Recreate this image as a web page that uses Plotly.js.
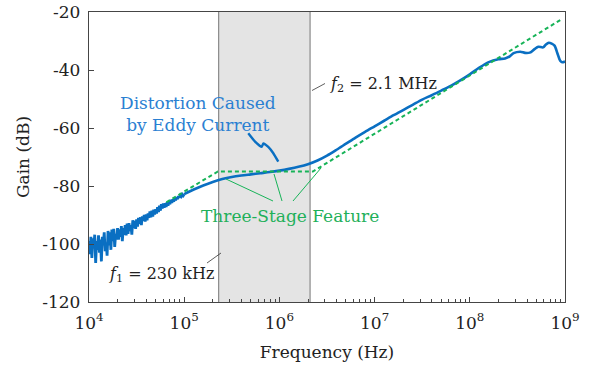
<!DOCTYPE html>
<html>
<head>
<meta charset="utf-8">
<script src="https://cdn.plot.ly/plotly-3.0.1.min.js"></script>
<style>html,body{margin:0;padding:0;background:#fff;}#chart{width:597px;height:369px;}</style>
</head>
<body>
<div id="chart"></div>
<script>
// ---- Data ----
// Noisy low-frequency part of the measured gain (10 kHz - 100 kHz)
const noisyFreq = [
  1.000e4,1.023e4,1.047e4,1.072e4,1.096e4,1.122e4,1.148e4,1.175e4,1.202e4,1.230e4,
  1.259e4,1.288e4,1.318e4,1.349e4,1.380e4,1.413e4,1.445e4,1.479e4,1.514e4,1.549e4,
  1.585e4,1.622e4,1.660e4,1.698e4,1.738e4,1.778e4,1.820e4,1.862e4,1.905e4,1.950e4,
  1.995e4,2.042e4,2.089e4,2.138e4,2.188e4,2.239e4,2.291e4,2.344e4,2.399e4,2.455e4,
  2.512e4,2.570e4,2.630e4,2.692e4,2.754e4,2.818e4,2.884e4,2.951e4,3.020e4,3.090e4,
  3.162e4,3.236e4,3.311e4,3.388e4,3.467e4,3.548e4,3.631e4,3.715e4,3.802e4,3.890e4,
  3.981e4,4.074e4,4.169e4,4.266e4,4.365e4,4.467e4,4.571e4,4.677e4,4.786e4,4.898e4,
  5.012e4,5.129e4,5.248e4,5.370e4,5.495e4,5.623e4,5.754e4,5.888e4,6.026e4,6.166e4,
  6.310e4,6.457e4,6.607e4,6.761e4,6.918e4,7.079e4,7.244e4,7.413e4,7.586e4,7.762e4,
  7.943e4,8.128e4,8.318e4,8.511e4,8.710e4,8.913e4,9.120e4,9.333e4,9.550e4,9.772e4,
  1.000e5
];
const noisyGain = [
  -99.0,-103.5,-97.5,-104.8,-98.0,-101.5,-96.8,-106.5,-99.0,-102.0,
  -97.0,-103.0,-98.5,-106.0,-97.5,-100.5,-96.0,-102.5,-99.5,-104.0,
  -95.5,-100.5,-96.0,-102.0,-95.0,-99.0,-94.8,-101.0,-96.5,-98.5,
  -94.5,-98.5,-95.0,-97.5,-93.8,-99.0,-94.5,-96.8,-93.5,-97.0,
  -93.0,-96.5,-92.8,-95.5,-93.5,-96.8,-91.8,-94.5,-92.0,-94.8,
  -91.5,-94.0,-91.0,-93.0,-90.8,-93.5,-90.5,-92.0,-90.0,-92.3,
  -89.8,-91.8,-89.5,-91.0,-88.8,-90.8,-88.5,-90.5,-88.2,-89.8,
  -88.0,-89.5,-87.3,-89.0,-86.8,-88.5,-86.3,-87.8,-86.0,-87.5,
  -86.0,-87.2,-85.6,-86.8,-85.3,-86.3,-84.8,-85.8,-84.6,-85.4,
  -84.2,-85.0,-83.8,-84.5,-83.5,-84.0,-83.2,-83.6,-82.9,-83.3,
  -82.8
];
// Smooth part of the measured gain (100 kHz - 1 GHz)
const smoothFreq = [
  1.000e5,1.259e5,1.585e5,1.995e5,2.512e5,3.162e5,3.981e5,5.012e5,6.310e5,7.943e5,
  1.000e6,1.259e6,1.585e6,1.995e6,2.512e6,3.162e6,3.981e6,5.012e6,6.310e6,7.943e6,
  1.000e7,1.259e7,1.585e7,1.995e7,2.512e7,3.162e7,3.981e7,5.012e7,6.310e7,7.943e7,
  1.000e8,1.259e8,1.585e8,1.995e8,2.344e8,2.630e8,2.884e8,3.388e8,3.802e8,4.266e8,
  4.786e8,5.248e8,5.888e8,6.310e8,6.761e8,7.244e8,7.762e8,8.318e8,8.913e8,9.333e8,
  1.000e9
];
const smoothGain = [
  -82.8,-81.2,-79.8,-78.6,-77.6,-76.9,-76.4,-76.0,-75.6,-75.2,
  -74.7,-74.1,-73.4,-72.5,-71.2,-69.5,-67.5,-65.4,-63.3,-61.3,
  -59.4,-57.5,-55.6,-53.8,-52.0,-50.2,-48.7,-47.1,-45.5,-43.6,
  -41.5,-39.2,-37.3,-36.3,-36.0,-35.3,-34.2,-33.7,-34.1,-34.0,
  -32.8,-32.0,-32.2,-31.2,-30.6,-30.9,-31.6,-34.2,-36.8,-37.3,
  -37.1
];
// Distortion caused by eddy current
const eddyFreq = [4.71e5, 5.55e5, 6.52e5, 6.78e5, 7.64e5, 8.63e5, 9.73e5];
const eddyGain = [-61.8, -64.7, -66.5, -65.3, -66.5, -68.7, -71.6];
// Three-stage asymptote (dashed green)
const fitFreq = [6.5e4, 2.26e5, 2.25e6, 9.2e8];
const fitGain = [-85.6, -75.0, -75.0, -22.5];
// Band limits
const f1 = 2.3e5, f2 = 2.1e6;
// Axis ticks
const xTickVals = [1e4, 1e5, 1e6, 1e7, 1e8, 1e9];
const xTickText = ['10<sup>4</sup>','10<sup>5</sup>','10<sup>6</sup>','10<sup>7</sup>','10<sup>8</sup>','10<sup>9</sup>'];
const yTickVals = [-120, -100, -80, -60, -40, -20];
const yTickText = ['-120', '-100', '-80', '-60', '-40', '-20'];

// ---- Layout geometry (pixels of plot area) ----
const W = 597, H = 369;
const L = 89, R = 565, T = 12, B = 302;
const xMin = 4, xMax = 9;
const px = x => (x - L) / (R - L);
const py = y => 1 - (y - T) / (B - T);
const fx = f => (Math.log10(f) - xMin) / (xMax - xMin); // frequency -> paper x

const FONT = 'DejaVu Serif, Liberation Serif, serif';
const BLUE = '#0a6fc2';
const BLUE_TXT = '#2a80d2';
const GREEN = '#17b358';
const AXC = '#454545';

const traces = [
  {x: noisyFreq, y: noisyGain, mode: 'lines', line: {color: BLUE, width: 2.8}, hoverinfo: 'skip'},
  {x: smoothFreq, y: smoothGain, mode: 'lines', line: {color: BLUE, width: 2.6, shape: 'spline', smoothing: 0.8}, hoverinfo: 'skip'},
  {x: eddyFreq, y: eddyGain, mode: 'lines', line: {color: BLUE, width: 2.4, shape: 'spline', smoothing: 0.4}, hoverinfo: 'skip'},
  {x: fitFreq, y: fitGain, mode: 'lines', line: {color: GREEN, width: 2, dash: '4px,3px'}, hoverinfo: 'skip'}
];

function seg(x0, y0, x1, y1, color, w) {
  return {type: 'line', xref: 'paper', yref: 'paper', x0: px(x0), y0: py(y0), x1: px(x1), y1: py(y1),
          line: {color: color, width: w}};
}

const shapes = [
  {type: 'rect', xref: 'paper', yref: 'paper', x0: fx(f1), x1: fx(f2), y0: 0, y1: 1,
   fillcolor: '#e4e4e4', line: {width: 0}, layer: 'below'},
  {type: 'line', xref: 'paper', yref: 'paper', x0: fx(f1), x1: fx(f1), y0: 0, y1: 1,
   line: {color: '#8a8a8a', width: 1.2}, layer: 'below'},
  {type: 'line', xref: 'paper', yref: 'paper', x0: fx(f2), x1: fx(f2), y0: 0, y1: 1,
   line: {color: '#8a8a8a', width: 1.2}, layer: 'below'},
  seg(207, 263, 221, 253, '#333', 0.8),
  seg(312, 90.5, 325, 83.5, '#333', 0.8),
  seg(226, 179, 273, 201, GREEN, 1),
  seg(274, 174, 282, 201, GREEN, 1),
  seg(321, 168, 293, 201, GREEN, 1)
];

function ann(x, y, text, color, size) {
  return {xref: 'paper', yref: 'paper', x: px(x), y: py(y), text: text, showarrow: false,
          xanchor: 'center', yanchor: 'middle', font: {family: FONT, size: size, color: color}};
}

const annotations = [
  ann(198, 113.5, 'Distortion Caused<br>by Eddy Current', BLUE_TXT, 17),
  ann(290, 216, 'Three-Stage Feature', '#1fb05a', 17),
  ann(161, 274, '<i>f</i><sub>1</sub> = 230 kHz', '#222', 16),
  ann(383, 85, '<i>f</i><sub>2</sub> = 2.1 MHz', '#222', 16)
];

const layout = {
  width: W, height: H,
  margin: {l: L, r: W - R, t: T, b: H - B, pad: 0},
  paper_bgcolor: '#fff', plot_bgcolor: '#fff',
  showlegend: false,
  font: {family: FONT, size: 17, color: '#222'},
  xaxis: {
    type: 'log', range: [xMin, xMax], tickvals: xTickVals, ticktext: xTickText,
    showline: true, mirror: true, linecolor: AXC, linewidth: 1.3,
    ticks: 'inside', ticklen: 5, tickcolor: AXC, tickwidth: 1,
    minor: {ticks: 'inside', ticklen: 3, tickcolor: AXC, tickwidth: 0.8, dtick: 'D1', showgrid: false},
    showgrid: false, zeroline: false, ticklabelstandoff: 5,
    tickfont: {family: FONT, size: 17, color: '#222'},
    title: {text: 'Frequency (Hz)', font: {family: FONT, size: 17, color: '#222'}, standoff: 14}
  },
  yaxis: {
    range: [-120, -20], tickvals: yTickVals, ticktext: yTickText,
    showline: true, mirror: true, linecolor: AXC, linewidth: 1.3,
    ticks: 'inside', ticklen: 5, tickcolor: AXC, tickwidth: 1,
    showgrid: false, zeroline: false, ticklabelstandoff: 4,
    tickfont: {family: FONT, size: 17, color: '#222'},
    title: {text: 'Gain (dB)', font: {family: FONT, size: 17, color: '#222'}, standoff: 8}
  },
  shapes: shapes,
  annotations: annotations
};

Plotly.newPlot('chart', traces, layout, {displayModeBar: false});
</script>
</body>
</html>
